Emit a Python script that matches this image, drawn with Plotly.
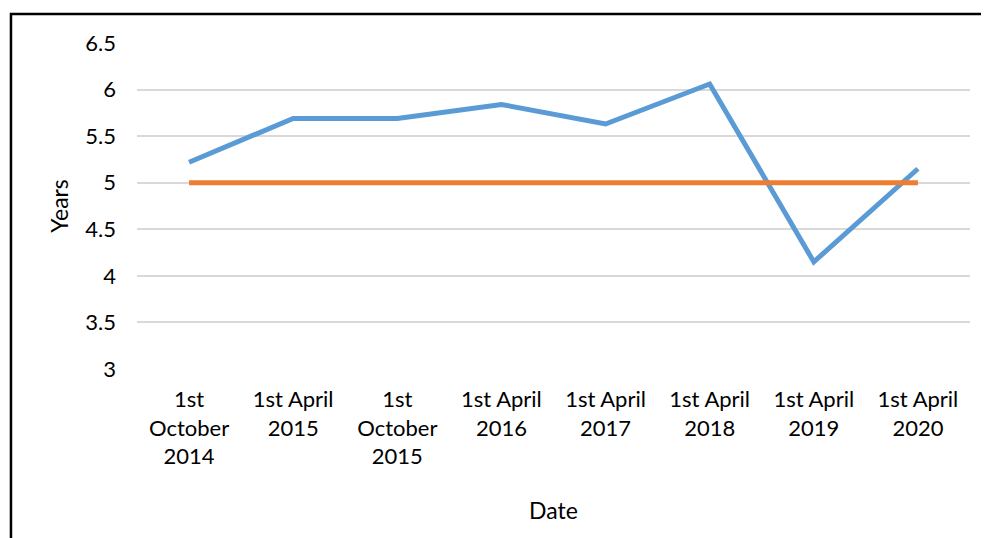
import plotly.graph_objects as go

# Datos
fechas = [
    "1st<br>October<br>2014",
    "1st April<br>2015",
    "1st<br>October<br>2015",
    "1st April<br>2016",
    "1st April<br>2017",
    "1st April<br>2018",
    "1st April<br>2019",
    "1st April<br>2020",
]
anios = [5.22, 5.69, 5.69, 5.84, 5.63, 6.06, 4.15, 5.15]
objetivo = [5, 5, 5, 5, 5, 5, 5, 5]

AZUL = "#5B9BD5"
NARANJA = "#ED7D31"
FUENTE = "Lato, sans-serif"

fig = go.Figure()

fig.add_trace(go.Scatter(
    x=fechas, y=anios, mode="lines",
    line=dict(color=AZUL, width=5),
    name="Years",
))
fig.add_trace(go.Scatter(
    x=fechas, y=objetivo, mode="lines",
    line=dict(color=NARANJA, width=5),
    name="Target",
))

# la página añade 8 px de margen, por eso se descuentan aquí
fig.update_layout(
    width=981, height=530,
    margin=dict(l=129, r=19, t=35, b=169, autoexpand=False),
    paper_bgcolor="white", plot_bgcolor="white",
    showlegend=False,
    font=dict(family=FUENTE, size=22, color="black"),
)

fig.update_xaxes(
    type="category", range=[-0.5, 7.5],
    showgrid=False, showline=False, zeroline=False,
    ticks="", tickangle=0, automargin=False,
    ticklabelstandoff=15,
    title=dict(text="Date", font=dict(size=23), standoff=34),
)
fig.update_yaxes(
    range=[3, 6.5], dtick=0.5,
    showgrid=True, gridcolor="#D9D9D9", gridwidth=1.5,
    zeroline=False, showline=False, ticks="", automargin=False,
    ticklabelstandoff=20,
    title=dict(text="Years", font=dict(size=23), standoff=10),
)

# Marco del gráfico
fig.add_shape(
    type="rect", xref="paper", yref="paper",
    x0=-0.1513, x1=1.035, y0=-0.7, y1=1.089,
    line=dict(color="black", width=2.5),
    fillcolor="rgba(0,0,0,0)", layer="above",
)

fig.write_html("out.html")
